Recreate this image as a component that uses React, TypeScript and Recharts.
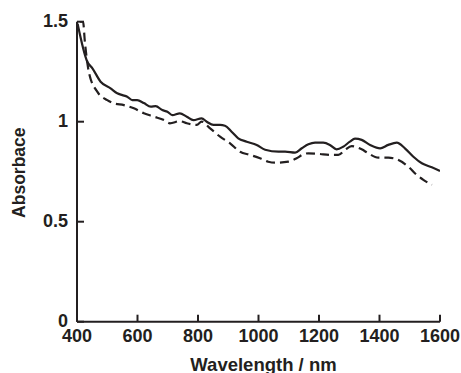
import { LineChart, Line, XAxis, YAxis } from 'recharts';

const solidWavelength = [
  402, 434, 451, 478, 511, 533, 550, 566, 583, 599, 621, 644, 660, 682, 699, 715, 740, 763, 785, 812,
  829, 851, 873, 889, 911, 933, 961, 994, 1022, 1066, 1088, 1121, 1143, 1165, 1187, 1214, 1236, 1258,
  1280, 1302, 1319, 1341, 1369, 1402, 1429, 1457, 1484, 1512, 1540, 1573, 1600,
];
const solidAbsorbance = [
  1.49, 1.3, 1.267, 1.2, 1.167, 1.142, 1.133, 1.125, 1.108, 1.108, 1.093, 1.075, 1.078, 1.058, 1.05, 1.033,
  1.042, 1.025, 1.008, 1.017, 1.0, 0.984, 0.984, 0.98, 0.95, 0.917, 0.9, 0.884, 0.86, 0.85, 0.85, 0.845,
  0.867, 0.887, 0.895, 0.895, 0.884, 0.862, 0.875, 0.9, 0.915, 0.909, 0.884, 0.867, 0.884, 0.895, 0.867,
  0.825, 0.792, 0.772, 0.754,
];

const dashedWavelength = [
  410, 420, 426, 440, 467, 500, 522, 555, 588, 621, 655, 688, 707, 740, 763, 796, 812, 840, 873, 906,
  939, 972, 1005, 1032, 1055, 1099, 1126, 1148, 1165, 1198, 1242, 1264, 1286, 1308, 1341, 1363, 1396,
  1429, 1457, 1501, 1517, 1545, 1573,
];
const dashedAbsorbance = [
  1.5, 1.5, 1.4, 1.242, 1.15, 1.108, 1.092, 1.083, 1.067, 1.042, 1.025, 1.008, 0.992, 1.003, 0.992, 0.984,
  1.0, 0.967, 0.925, 0.892, 0.85, 0.834, 0.817, 0.8, 0.795, 0.8, 0.817, 0.837, 0.842, 0.839, 0.834, 0.834,
  0.859, 0.878, 0.862, 0.842, 0.82, 0.82, 0.812, 0.767, 0.742, 0.709, 0.684,
];

const xTicks = [400, 600, 800, 1000, 1200, 1400, 1600];
const yTicks = [0, 0.5, 1, 1.5];

const solidData = solidWavelength.map((nm, i) => ({ nm, a: solidAbsorbance[i] }));
const dashedData = dashedWavelength.map((nm, i) => ({ nm, a: dashedAbsorbance[i] }));

const ink = '#231f20';
const font = '"Liberation Sans", Arial, sans-serif';

// ticks point inward, so draw them ourselves
function XTick(props: any) {
  const { x, y, payload } = props;
  return (
    <g>
      <line x1={x} y1={y} x2={x} y2={y - 7} stroke={ink} strokeWidth={2} />
      <text x={x} y={y + 20} textAnchor="middle" fill={ink} fontFamily={font} fontWeight="bold" fontSize={18}>
        {payload.value}
      </text>
    </g>
  );
}

function YTick(props: any) {
  const { x, y, payload } = props;
  return (
    <g>
      <line x1={x} y1={y} x2={x + 7} y2={y} stroke={ink} strokeWidth={2} />
      <text x={x - 9} y={y + 5.5} textAnchor="end" fill={ink} fontFamily={font} fontWeight="bold" fontSize={18}>
        {payload.value}
      </text>
    </g>
  );
}

export default function App() {
  return (
    <div style={{ position: 'absolute', left: 0, top: 0, background: '#fff' }}>
      <LineChart width={461} height={373} margin={{ top: 21.7, right: 21, bottom: 21.3, left: 0 }}>
        <XAxis
          type="number"
          dataKey="nm"
          domain={[400, 1600]}
          ticks={xTicks}
          interval={0}
          height={30}
          tickSize={0}
          tickMargin={0}
          tickLine={false}
          axisLine={{ stroke: ink, strokeWidth: 2 }}
          tick={<XTick />}
          allowDataOverflow
          label={(p: any) => {
            const vb = p.viewBox || { x: 77, y: 321.7, width: 363, height: 30 };
            return (
              <text
                x={vb.x + vb.width / 2 + 5}
                y={vb.y + 49}
                textAnchor="middle"
                fill={ink}
                fontFamily={font}
                fontWeight="bold"
                fontSize={18.5}
              >
                Wavelength / nm
              </text>
            );
          }}
        />
        <YAxis
          type="number"
          dataKey="a"
          domain={[0, 1.5]}
          ticks={yTicks}
          interval={0}
          width={77}
          tickSize={0}
          tickMargin={0}
          tickLine={false}
          axisLine={{ stroke: ink, strokeWidth: 2 }}
          tick={<YTick />}
          allowDataOverflow
          label={(p: any) => {
            const vb = p.viewBox || { x: 0, y: 21.7, width: 77, height: 300 };
            const cy = vb.y + vb.height / 2 + 1;
            return (
              <text
                x={25}
                y={cy}
                transform={`rotate(-90 25 ${cy})`}
                textAnchor="middle"
                fill={ink}
                fontFamily={font}
                fontWeight="bold"
                fontSize={17.5}
              >
                Absorbace
              </text>
            );
          }}
        />
        <Line
          data={solidData}
          dataKey="a"
          type="monotone"
          stroke={ink}
          strokeWidth={2.2}
          dot={false}
          isAnimationActive={false}
        />
        <Line
          data={dashedData}
          dataKey="a"
          type="monotone"
          stroke={ink}
          strokeWidth={2.2}
          strokeDasharray="9 5"
          dot={false}
          isAnimationActive={false}
        />
      </LineChart>
    </div>
  );
}
